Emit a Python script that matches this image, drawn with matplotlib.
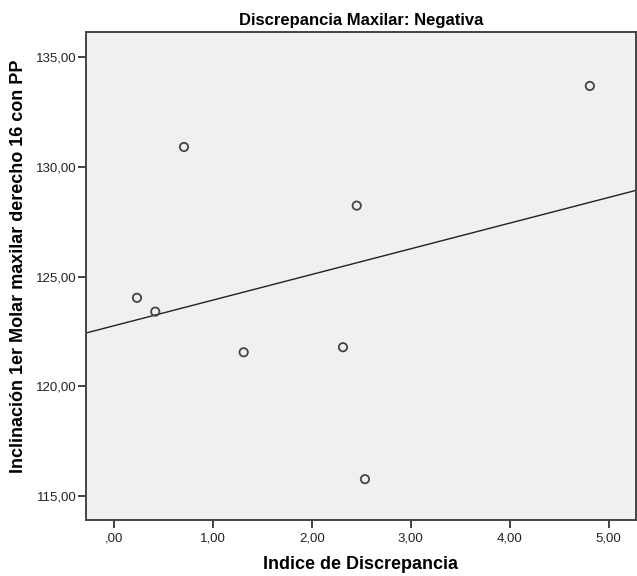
import numpy as np
import matplotlib
matplotlib.use('Agg')
import matplotlib.pyplot as plt
from matplotlib.ticker import FuncFormatter

plt.rcParams['font.family'] = ['Liberation Sans', 'DejaVu Sans']

# Indice de discrepancia vs. inclinacion del 1er molar (grupo negativo)
indice = [0.235, 0.42, 0.71, 1.313, 2.316, 2.455, 2.538, 4.81]
inclinacion = [124.03, 123.40, 130.90, 121.55, 121.78, 128.23, 115.77, 133.68]

x_ticks = [0, 1, 2, 3, 4, 5]
y_ticks = [115, 120, 125, 130, 135]
x_lim = (-0.28, 5.276)
y_lim = (113.91, 136.16)


def coma(v, pos=None):
    s = f'{v:.2f}'.replace('.', ',')
    if s.startswith('0,'):
        s = s[1:]
    return s


fig = plt.figure(figsize=(6.37, 5.76), dpi=100)
ax = fig.add_axes([0.135, 0.0972, 0.8634, 0.8481])
ax.set_facecolor('#f0f0f0')

# puntos
ax.scatter(indice, inclinacion, s=36, facecolors='none', edgecolors='#444444',
           linewidths=1.3, zorder=3)

# recta de ajuste lineal
m, b = np.polyfit(indice, inclinacion, 1)
xs = np.array(x_lim)
ax.plot(xs, m * xs + b, color='#222222', lw=1.0, zorder=2)

ax.set_xlim(*x_lim)
ax.set_ylim(*y_lim)
ax.set_xticks(x_ticks)
ax.set_yticks(y_ticks)
ax.xaxis.set_major_formatter(FuncFormatter(coma))
ax.yaxis.set_major_formatter(FuncFormatter(coma))
ax.tick_params(axis='both', direction='out', length=6, width=1.3,
               color='#333333', labelsize=9.5, labelcolor='#222222', pad=1)
ax.tick_params(axis='x', pad=3)

for sp in ax.spines.values():
    sp.set_color('#444444')
    sp.set_linewidth(1.4)

ax.set_title('Discrepancia Maxilar: Negativa', fontsize=12, fontweight='bold', pad=5)
ax.set_xlabel('Indice de Discrepancia', fontsize=13, fontweight='bold', labelpad=8)
ax.set_ylabel('Inclinación 1er Molar maxilar derecho 16 con PP', fontsize=13,
              fontweight='bold')
ax.yaxis.set_label_coords(-0.107, 0.52)

fig.savefig('out.png', dpi=100)
